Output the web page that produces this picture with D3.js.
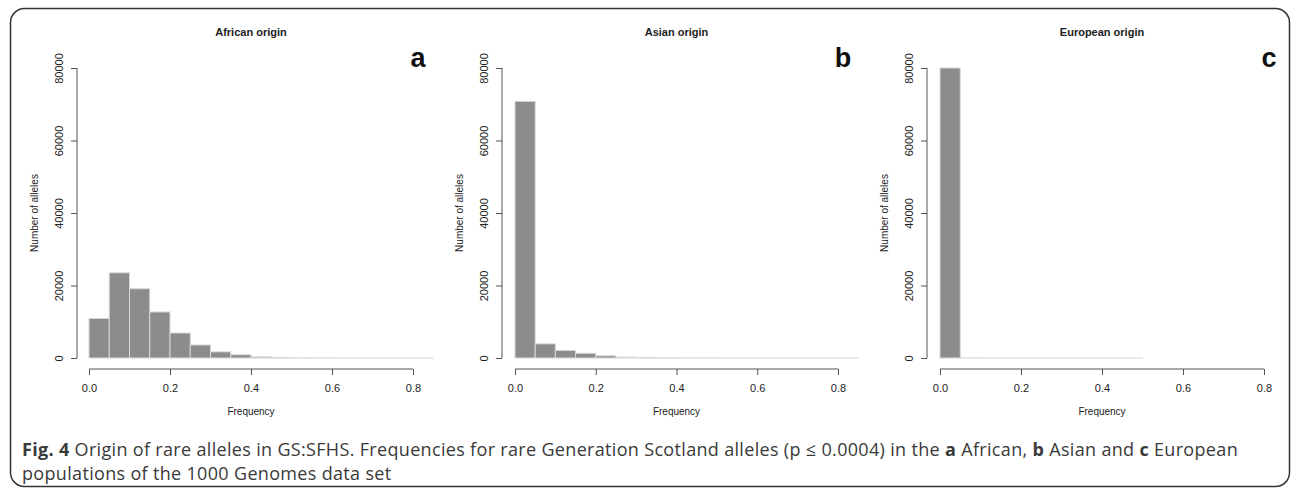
<!DOCTYPE html>
<html>
<head>
<meta charset="utf-8">
<script src="https://cdn.jsdelivr.net/npm/d3@7"></script>
<style>
  body { margin: 0; background: #fff; }
  svg { display: block; }
</style>
</head>
<body>
<div id="chart"></div>
<script>
// histogram data, bins of width 0.05 starting at 0
var binWidth = 0.05;
var africanCounts = [10900, 23500, 19100, 12700, 6900, 3600, 1700, 900, 320, 150, 40, 20, 10, 5, 3, 2, 1];
var asianCounts = [70800, 3900, 2100, 1300, 600, 260, 110, 50, 25, 15, 8, 5, 3, 2, 1, 1, 1];
var europeanCounts = [80000, 30, 10, 5, 3, 2, 1, 1, 1, 1];
var panelTitles = ["African origin", "Asian origin", "European origin"];
var panelLetters = ["a", "b", "c"];
var yTicks = [0, 20000, 40000, 60000, 80000];
var xTicks = [0, 0.2, 0.4, 0.6, 0.8];

var svgWidth = 1292;
var svgHeight = 492;

var svg = d3.select("#chart")
  .append("svg")
  .attr("width", svgWidth)
  .attr("height", svgHeight);

// rounded frame
svg.append("rect")
  .attr("x", 10.5)
  .attr("y", 8.5)
  .attr("width", 1279)
  .attr("height", 478)
  .attr("rx", 14)
  .attr("fill", "none")
  .attr("stroke", "#333")
  .attr("stroke-width", 1.5);

// left edge of each plot (y axis) and x range
var panels = [
  { counts: africanCounts, yAxisX: 77, x0: 89, x1: 413 },
  { counts: asianCounts, yAxisX: 502, x0: 515, x1: 838 },
  { counts: europeanCounts, yAxisX: 927, x0: 940, x1: 1264 }
];

var yTop = 68, yBottom = 358, xAxisY = 369;
var font = "Liberation Sans, Arial, Helvetica, sans-serif";

panels.forEach(function (p, i) {
  var g = svg.append("g");

  var xScale = d3.scaleLinear().domain([0, 0.8]).range([p.x0, p.x1]);
  var yScale = d3.scaleLinear().domain([0, 80000]).range([yBottom, yTop]);

  // bars
  g.selectAll("rect.bar")
    .data(p.counts)
    .enter()
    .append("rect")
    .attr("class", "bar")
    .attr("x", (d, j) => xScale(j * binWidth))
    .attr("width", xScale(binWidth) - xScale(0))
    .attr("y", d => yScale(d))
    .attr("height", d => yBottom - yScale(d))
    .attr("fill", "#8c8c8c")
    .attr("stroke", "#d8d8d8")
    .attr("stroke-width", 1);

  // y axis (R style, ticks pointing left, rotated labels)
  var yAxis = d3.axisLeft(yScale).tickValues(yTicks).tickSize(6).tickFormat(d3.format("d"));
  var ya = g.append("g")
    .attr("transform", "translate(" + p.yAxisX + ",0)")
    .call(yAxis);
  ya.select(".domain").attr("d", "M0," + yScale(0) + "V" + yScale(80000)).attr("stroke", "#555");
  ya.selectAll(".tick line").attr("stroke", "#555");
  ya.selectAll(".tick text")
    .attr("x", null).attr("dy", null)
    .attr("transform", "translate(-14,0) rotate(-90)")
    .attr("text-anchor", "middle")
    .attr("font-family", font)
    .attr("font-size", 11)
    .attr("fill", "#222");

  // x axis
  var xAxis = d3.axisBottom(xScale).tickValues(xTicks).tickSize(6).tickFormat(d3.format(".1f"));
  var xa = g.append("g")
    .attr("transform", "translate(0," + xAxisY + ")")
    .call(xAxis);
  xa.select(".domain").attr("d", "M" + xScale(0) + ",0H" + xScale(0.8)).attr("stroke", "#555");
  xa.selectAll(".tick line").attr("stroke", "#555");
  xa.selectAll(".tick text")
    .attr("y", 23).attr("dy", null)
    .attr("font-family", font)
    .attr("font-size", 11)
    .attr("fill", "#222");

  var cx = (p.x0 + p.x1) / 2;

  g.append("text")
    .attr("x", cx)
    .attr("y", 36)
    .attr("text-anchor", "middle")
    .attr("font-family", font)
    .attr("font-weight", "bold")
    .attr("font-size", 11)
    .attr("fill", "#222")
    .text(panelTitles[i]);

  g.append("text")
    .attr("x", p.x1 + 5)
    .attr("y", 67)
    .attr("text-anchor", "middle")
    .attr("font-family", font)
    .attr("font-weight", "bold")
    .attr("font-size", 27)
    .attr("fill", "#111")
    .text(panelLetters[i]);

  g.append("text")
    .attr("transform", "translate(" + (p.yAxisX - 39) + "," + ((yTop + yBottom) / 2) + ") rotate(-90)")
    .attr("text-anchor", "middle")
    .attr("font-family", font)
    .attr("font-size", 10)
    .attr("fill", "#222")
    .text("Number of alleles");

  g.append("text")
    .attr("x", cx)
    .attr("y", 415)
    .attr("text-anchor", "middle")
    .attr("font-family", font)
    .attr("font-size", 10)
    .attr("fill", "#222")
    .text("Frequency");
});

// caption
var capFont = "'Open Sans', 'Noto Sans', sans-serif";
var line1 = svg.append("text")
  .attr("x", 22)
  .attr("y", 456)
  .attr("font-family", capFont)
  .attr("font-size", 18)
  .attr("fill", "#3a3a3a");
line1.append("tspan").attr("font-weight", "bold").text("Fig. 4");
line1.append("tspan").text(" Origin of rare alleles in GS:SFHS. Frequencies for rare Generation Scotland alleles (p \u2264 0.0004) in the ");
line1.append("tspan").attr("font-weight", "bold").text("a");
line1.append("tspan").text(" African, ");
line1.append("tspan").attr("font-weight", "bold").text("b");
line1.append("tspan").text(" Asian and ");
line1.append("tspan").attr("font-weight", "bold").text("c");
line1.append("tspan").text(" European");

// stretch a little with letter spacing so the line ends where the reference does
var target1 = 1216;
var w1 = line1.node().getComputedTextLength();
var n1 = line1.text().length;
var ls = Math.max(0, (target1 - w1) / n1);
line1.attr("letter-spacing", ls);

var line2 = svg.append("text")
  .attr("x", 22)
  .attr("y", 480)
  .attr("font-family", capFont)
  .attr("font-size", 18)
  .attr("letter-spacing", ls)
  .attr("fill", "#3a3a3a")
  .text("populations of the 1000 Genomes data set");
</script>
</body>
</html>
